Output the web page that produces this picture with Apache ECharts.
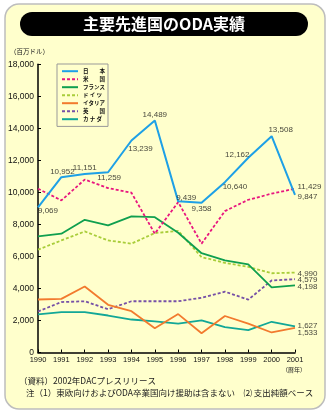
<!DOCTYPE html>
<html><head><meta charset="utf-8">
<script src="https://cdn.jsdelivr.net/npm/echarts@6/dist/echarts.min.js"></script>
<style>html,body{margin:0;padding:0;background:#fff}#c{width:327px;height:414px}</style>
</head><body><div id="c"></div>
<script>
const years = ['1990','1991','1992','1993','1994','1995','1996','1997','1998','1999','2000','2001'];
const seriesNames = ['日　　本','米　　国','フランス','ド イ ツ','イタリア','英　　国','カ ナ ダ'];
const japan   = [9069,10952,11151,11259,13239,14489,9439,9358,10640,12162,13508,9847];
const usa     = [10230,9500,10800,10270,9980,7420,9390,6800,8830,9540,9920,10230];
const france  = [7250,7420,8290,7940,8500,8450,7480,6200,5750,5500,4070,4198];
const germany = [6420,7000,7560,7000,6800,7460,7600,5960,5600,5350,4950,4990];
const italy   = [3310,3350,4120,2980,2580,1520,2400,1200,2280,1800,1250,1533];
const uk      = [2560,3150,3200,2700,3200,3200,3200,3420,3800,3300,4500,4579];
const canada  = [2380,2520,2520,2310,2060,1940,1800,2000,1580,1400,1920,1627];
const japanLabels = ['9,069','10,952','11,151','11,259','13,239','14,489','9,439','9,358','10,640','12,162','13,508','9,847'];
const endLabels = ['9,847','11,429','4,198','4,990','1,533','4,579','1,627'];
const yMin = 0, yMax = 18000, yStep = 2000;

const allData = [japan, usa, france, germany, italy, uk, canada];
const colors = ['#1ea0e6','#e8167f','#0f9f4f','#a9cd3a','#f27a2e','#7650a6','#12a797'];
const dashes = ['solid',[3,2],'solid',[3,2],'solid',[3,2],'solid'];
const widths = [2,1.8,1.8,1.8,1.8,1.8,1.8];
// label offsets (style)
const japanOffsets = [[10,4],[1,-5],[0,-6],[1,6],[9,8],[0,-6],[8,-4],[0,6],[10,5],[-11,-3],[9,-6]];
const endOffsets = [2,-2,2,1,5,1,-1];

const NARROW = '"Liberation Sans Narrow","Arial Narrow","Liberation Sans",Arial,sans-serif';
const JP = '"Noto Sans CJK JP","Noto Sans CJK SC",sans-serif';

const series = [];
allData.forEach((d, k) => {
  series.push({
    name: seriesNames[k], type: 'line', data: d, symbol: 'none',
    lineStyle: { color: colors[k], width: widths[k], type: dashes[k] },
    itemStyle: { color: colors[k] }, z: 10 - k, animation: false
  });
});
series.push({
  type: 'scatter', silent: true, symbolSize: 1, itemStyle: { color: 'rgba(0,0,0,0)' },
  data: japan.slice(0, 11).map((v, i) => ({
    value: [years[i], v],
    label: { show: true, position: 'inside', offset: japanOffsets[i], formatter: japanLabels[i] }
  })),
  label: { color: '#111', fontSize: 8, fontFamily: NARROW }, z: 20, animation: false
});
series.push({
  type: 'scatter', silent: true, symbolSize: 1, itemStyle: { color: 'rgba(0,0,0,0)' },
  data: allData.map((d, k) => ({
    value: [years[11], d[11]],
    label: { show: true, position: 'right', distance: 2, offset: [0, endOffsets[k]], formatter: endLabels[k] }
  })),
  label: { color: '#111', fontSize: 8, fontFamily: NARROW }, z: 20, animation: false
});

const chart = echarts.init(document.getElementById('c'), null, { renderer: 'canvas' });
chart.setOption({
  animation: false,
  textStyle: { fontFamily: NARROW },
  grid: { left: 38, right: 32, top: 64.3, bottom: 61.5, containLabel: false },
  xAxis: {
    type: 'category', data: years, boundaryGap: false,
    axisLine: { lineStyle: { color: '#000', width: 1.5 } },
    axisTick: { inside: true, length: 3, lineStyle: { color: '#000' } },
    axisLabel: { fontSize: 7.5, color: '#111', margin: 3, fontFamily: NARROW },
    splitLine: { show: false }
  },
  yAxis: {
    type: 'value', min: yMin, max: yMax, interval: yStep,
    axisLine: { show: true, lineStyle: { color: '#000', width: 1.5 } },
    axisTick: { show: true, inside: true, length: 3, lineStyle: { color: '#000' } },
    axisLabel: { fontSize: 8.5, color: '#111', margin: 4, fontFamily: NARROW },
    splitLine: { show: false }
  },
  legend: {
    orient: 'vertical', left: 57, top: 64,
    data: seriesNames,
    itemStyle: { opacity: 0 },
    backgroundColor: '#ffffcc', borderColor: '#999', borderWidth: 1,
    padding: [4, 3, 4, 4], itemWidth: 16, itemHeight: 8, itemGap: 1.6, itemTextGap: 2,
    textStyle: { fontSize: 5.5, fontWeight: 'bold', color: '#111', fontFamily: JP },
    selectedMode: false
  },
  graphic: [
    { type: 'rect', z: -10, shape: { x: 5, y: 4, width: 320, height: 405, r: 14 },
      style: { fill: '#ffffcc', stroke: '#bdbdbd', lineWidth: 1.5 } },
    { type: 'rect', z: -5, shape: { x: 20, y: 12, width: 288, height: 24, r: 12 }, style: { fill: '#000' } },
    { type: 'text', z: -4, x: 164, y: 24, style: { text: '主要先進国のODA実績', fill: '#fff',
      font: 'bold 16px ' + JP, align: 'center', verticalAlign: 'middle', textAlign: 'center', textVerticalAlign: 'middle' } },
    { type: 'text', z: -4, x: 10, y: 52, style: { text: '（百万ドル）', fill: '#222',
      font: '6.5px ' + JP, verticalAlign: 'middle', textVerticalAlign: 'middle' } },
    { type: 'text', z: -4, x: 294, y: 370, style: { text: '（暦年）', fill: '#222',
      font: '6px ' + JP, align: 'center', verticalAlign: 'middle', textAlign: 'center', textVerticalAlign: 'middle' } },
    { type: 'text', z: -4, x: 19, y: 381, style: { text: '（資料）2002年DACプレスリリース', fill: '#222',
      font: '8.5px ' + JP, verticalAlign: 'middle', textVerticalAlign: 'middle' } },
    { type: 'text', z: -4, x: 26, y: 393, style: { text: '注（1）東欧向けおよびODA卒業国向け援助は含まない　⑵ 支出純額ベース', fill: '#222',
      font: '8.5px ' + JP, verticalAlign: 'middle', textVerticalAlign: 'middle' } }
  ],
  series: series
});
</script>
</body></html>
